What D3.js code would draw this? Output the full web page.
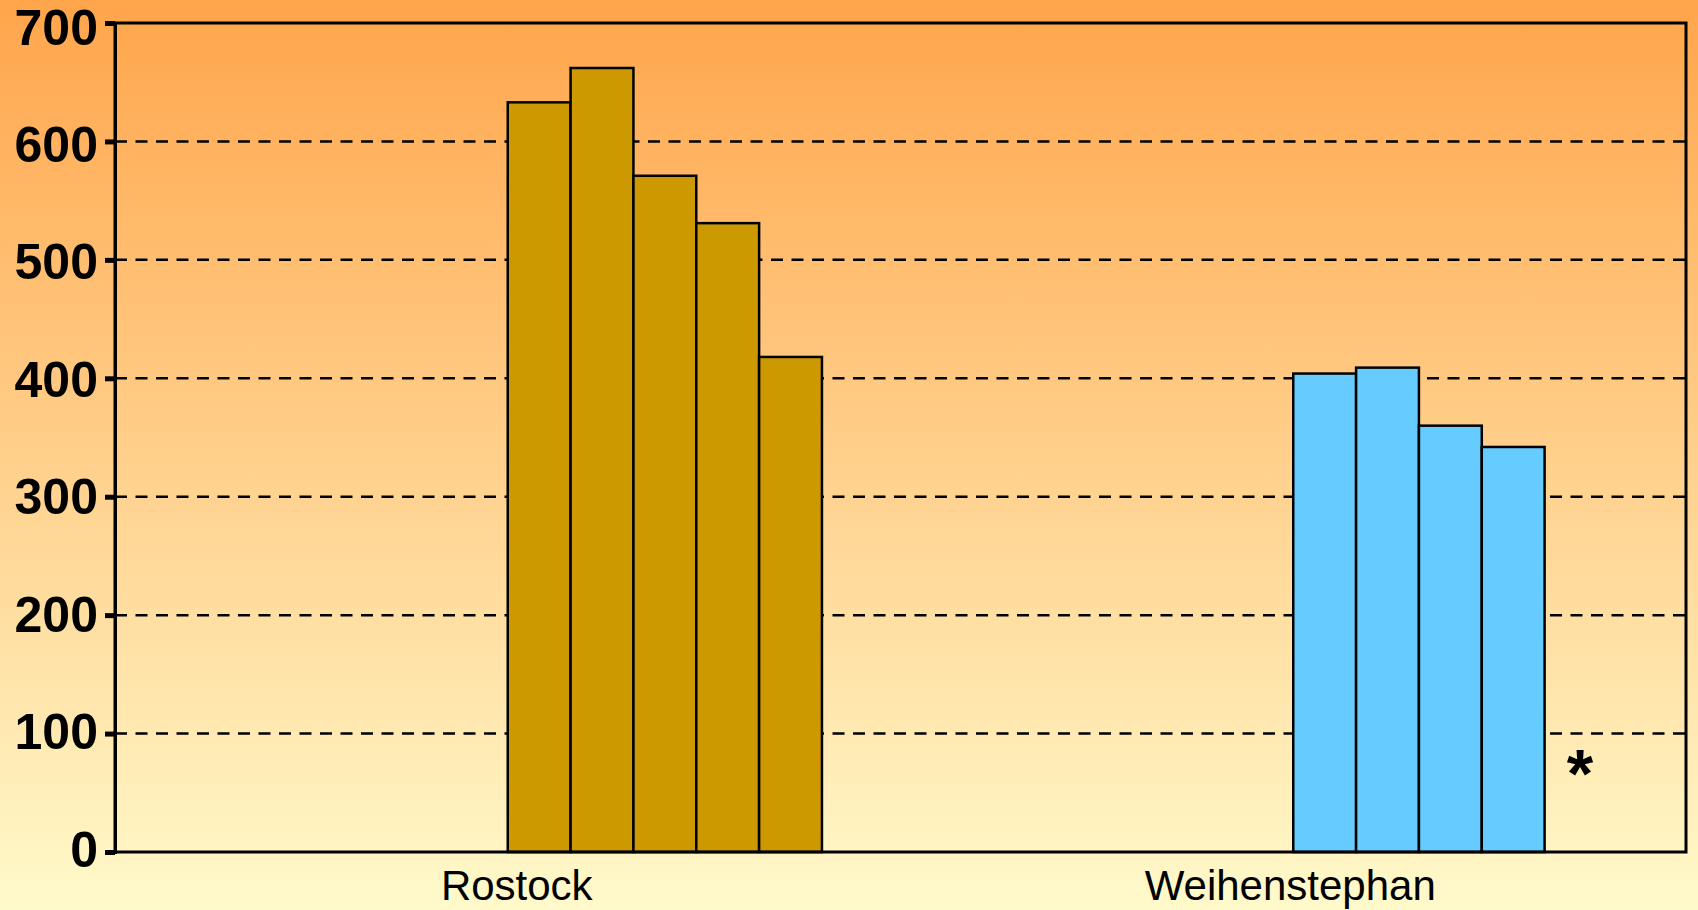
<!DOCTYPE html>
<html>
<head>
<meta charset="utf-8">
<script src="https://cdn.jsdelivr.net/npm/d3@7/dist/d3.min.js"></script>
<style>
  html, body { margin: 0; padding: 0; overflow: hidden; }
  svg { display: block; }
</style>
</head>
<body>
<div id="main-chart"></div>
<script>
const sites = ["Rostock", "Weihenstephan"];
const seriesKeys = ["S1", "S2", "S3", "S4", "S5"];
const rostockValues = [633, 662, 571, 531, 418];
const weihenstephanValues = [404, 409, 360, 342, null];
const yTicks = [0, 100, 200, 300, 400, 500, 600, 700];
const siteColors = { Rostock: "#CC9900", Weihenstephan: "#66CCFF" };
const noDataMark = { site: "Weihenstephan", key: "S5", value: 77, text: "*" };

const width = 1698;
const height = 910;
const margin = { left: 115, right: 12, top: 23, bottom: 58 };
const fontFamily = "'Liberation Sans', Arial, sans-serif";

const valuesBySite = {
  Rostock: rostockValues,
  Weihenstephan: weihenstephanValues,
};

const rows = sites.flatMap((site) =>
  seriesKeys.map((key, i) => ({ site, key, value: valuesBySite[site][i] }))
);

const svg = d3
  .select("#main-chart")
  .append("svg")
  .attr("width", width)
  .attr("height", height);

// background gradient, orange at top fading to pale yellow
const grad = svg
  .append("defs")
  .append("linearGradient")
  .attr("id", "bg")
  .attr("x1", 0)
  .attr("y1", 0)
  .attr("x2", 0)
  .attr("y2", 1);
grad.append("stop").attr("offset", "0%").attr("stop-color", "#FFA54B");
grad.append("stop").attr("offset", "100%").attr("stop-color", "#FFFACB");

svg
  .append("rect")
  .attr("width", width)
  .attr("height", height)
  .attr("fill", "url(#bg)");

const x0 = d3
  .scaleBand()
  .domain(sites)
  .range([margin.left, width - margin.right])
  .paddingInner(0)
  .paddingOuter(0);

const barWidth = x0.bandwidth() / 12.5;

const x1 = d3
  .scaleBand()
  .domain(seriesKeys)
  .range([0, barWidth * seriesKeys.length]);

const y = d3
  .scaleLinear()
  .domain([0, 700])
  .range([height - margin.bottom, margin.top]);

// labels sit on a slightly tighter spacing than the ticks
const yLabel = d3
  .scaleLinear()
  .domain([0, 700])
  .range([y(0) - 3.5, y(700) + 3.5]);

const xLabel = d3
  .scalePoint()
  .domain(sites)
  .range([x0("Rostock") + x0.bandwidth() / 2 + 9, x0("Weihenstephan") + x0.bandwidth() / 2 - 3]);

// dashed gridlines
svg
  .append("g")
  .selectAll("line")
  .data(yTicks.filter((d) => d > 0 && d < 700))
  .join("line")
  .attr("x1", margin.left)
  .attr("x2", width - margin.right)
  .attr("y1", (d) => y(d))
  .attr("y2", (d) => y(d))
  .attr("stroke", "#000")
  .attr("stroke-width", 2.5)
  .attr("stroke-dasharray", "12,8.5");

// bars
svg
  .append("g")
  .selectAll("rect")
  .data(rows.filter((d) => d.value != null))
  .join("rect")
  .attr("x", (d) => x0(d.site) + x0.bandwidth() / 2 + x1(d.key))
  .attr("y", (d) => y(d.value))
  .attr("width", x1.bandwidth())
  .attr("height", (d) => y(0) - y(d.value))
  .attr("fill", (d) => siteColors[d.site])
  .attr("stroke", "#000")
  .attr("stroke-width", 2.5);

// plot frame
svg
  .append("rect")
  .attr("x", margin.left)
  .attr("y", margin.top)
  .attr("width", width - margin.right - margin.left)
  .attr("height", y(0) - margin.top)
  .attr("fill", "none")
  .attr("stroke", "#000")
  .attr("stroke-width", 3);

// y axis
const yAxis = svg
  .append("g")
  .attr("transform", `translate(${margin.left},0)`)
  .call(d3.axisLeft(y).tickValues(yTicks).tickSize(10).tickFormat(""));

yAxis.select(".domain").attr("stroke-width", 3);
yAxis.selectAll(".tick line").attr("stroke-width", 5);

svg
  .append("g")
  .selectAll("text")
  .data(yTicks)
  .join("text")
  .attr("x", margin.left - 17)
  .attr("y", (d) => yLabel(d))
  .attr("dy", "0.36em")
  .attr("text-anchor", "end")
  .attr("font-family", fontFamily)
  .attr("font-size", 50)
  .attr("font-weight", "bold")
  .attr("fill", "#000")
  .text((d) => d);

// category labels
svg
  .append("g")
  .selectAll("text")
  .data(sites)
  .join("text")
  .attr("x", (d) => xLabel(d))
  .attr("y", 900)
  .attr("text-anchor", "middle")
  .attr("font-family", fontFamily)
  .attr("font-size", 42)
  .attr("fill", "#000")
  .text((d) => d);

// marker for the missing value
svg
  .append("text")
  .attr(
    "x",
    x0(noDataMark.site) + x0.bandwidth() / 2 + x1(noDataMark.key) + x1.bandwidth() / 2 + 4
  )
  .attr("y", y(noDataMark.value))
  .attr("dy", "0.53em")
  .attr("text-anchor", "middle")
  .attr("font-family", fontFamily)
  .attr("font-size", 68)
  .attr("font-weight", "bold")
  .text(noDataMark.text);
</script>
</body>
</html>
